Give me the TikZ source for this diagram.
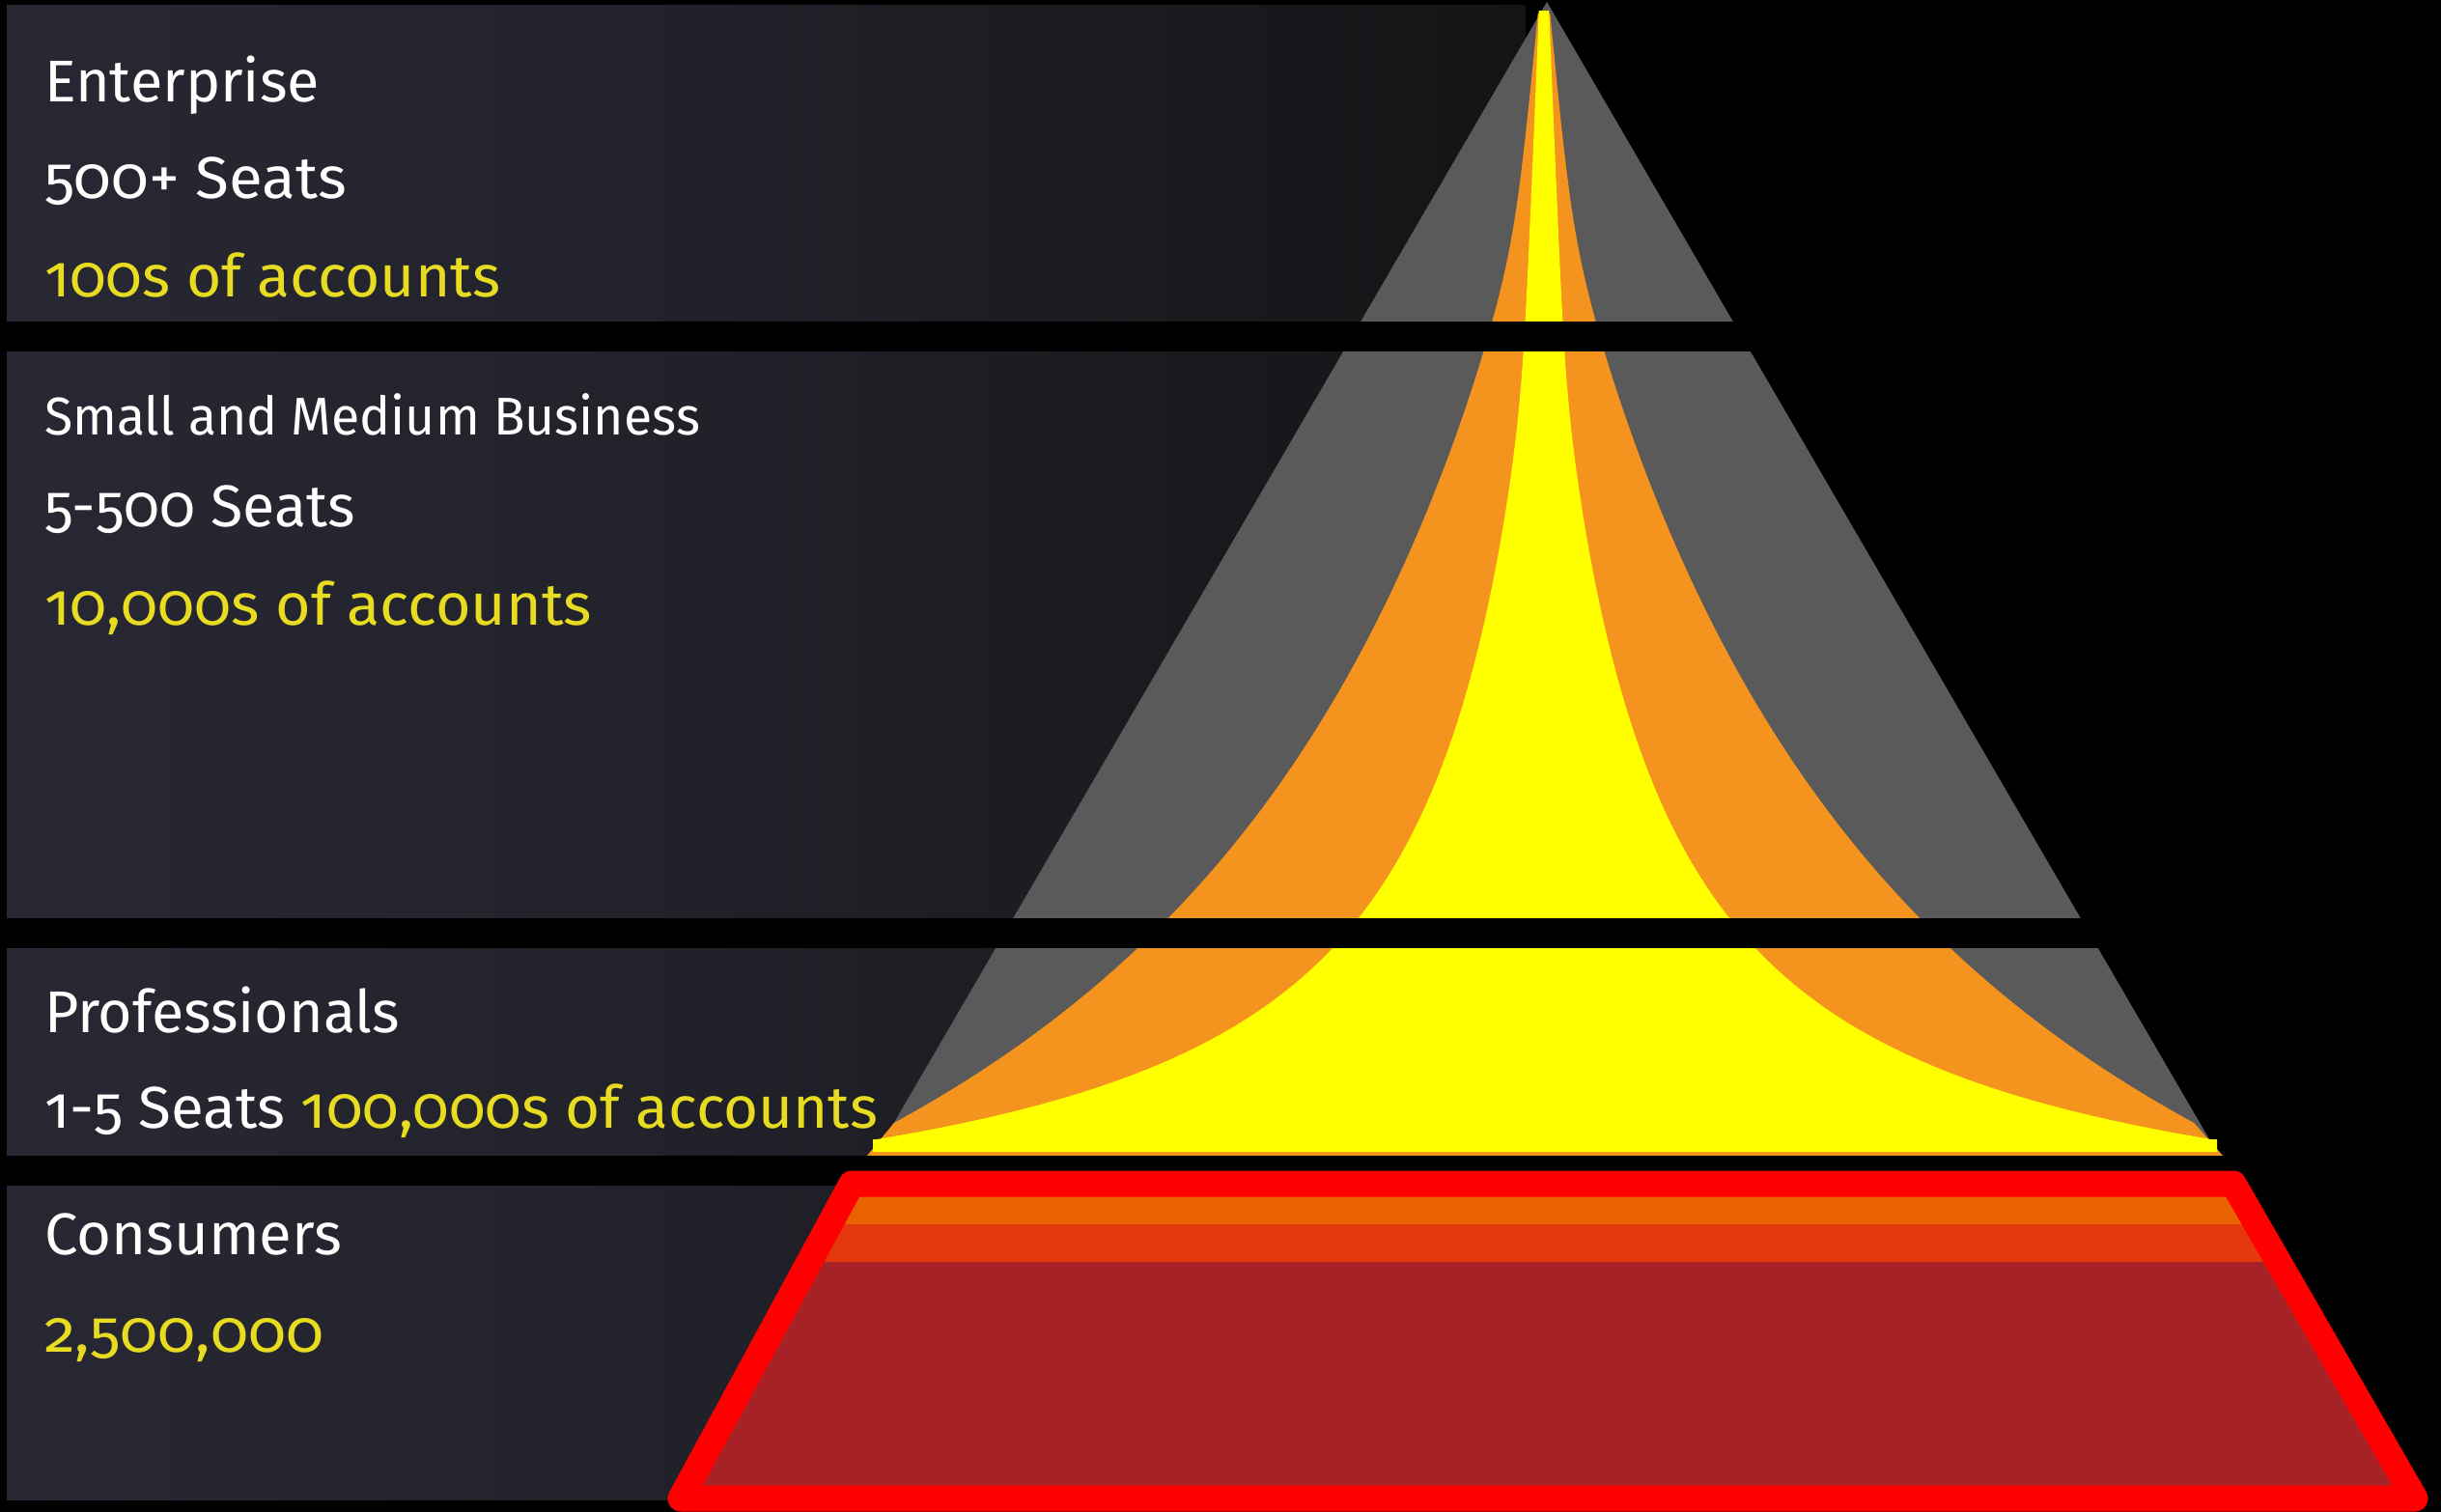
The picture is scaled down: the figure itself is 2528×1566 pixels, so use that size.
\documentclass[tikz,border=0pt]{standalone}
\usepackage{fontspec}
\setmainfont{Fira Sans}[Numbers=OldStyle]
\usepackage{graphicx}
\definecolor{panelL}{HTML}{272833}
\definecolor{panelM}{HTML}{202128}
\definecolor{panelR}{HTML}{141416}
\definecolor{pgrey}{HTML}{5A5A5A}
\definecolor{porange}{HTML}{F5931F}
\definecolor{pyellow}{HTML}{FFFF00}
\definecolor{ctext}{HTML}{E8DC22}
\definecolor{cbandA}{HTML}{E86200}
\definecolor{cbandB}{HTML}{E5390D}
\definecolor{cbody}{HTML}{A72226}
\definecolor{cred}{HTML}{FF0000}
\newcommand\fitw[2]{\resizebox{#1pt}{\height}{#2}}
\begin{document}
\begin{tikzpicture}[x=1pt,y=-1pt,
  declare function={
    hoa(\t)=6071.57/(17.385-\t/100)-382;
    hob(\t)=3+0.09*\t;
    hwo(\t)=0.5*(hoa(\t)+hob(\t)+100*sqrt(((hoa(\t)-hob(\t))/100)^2+0.03));
    hya(\t)=1019.88/(13.103-\t/100)-91.85;
    hyb(\t)=4+0.04*\t;
    hwy(\t)=0.5*(hya(\t)+hyb(\t)+100*sqrt(((hya(\t)-hyb(\t))/100)^2+0.006));},
  panel/.style={left color=panelL, right color=panelR, middle color=panelM},
  lbl/.style={anchor=base west, inner sep=0pt, outer sep=0pt, text=white},
  big/.style={font=\fontsize{61}{61}\selectfont},
  mid/.style={font=\fontsize{55}{55}\selectfont},
  yel/.style={text=ctext},
  crv/.style={samples=160, variable=\t}]
\useasboundingbox (0,0) rectangle (2528,1566);
\fill[black] (0,0) rectangle (2528,1566);
% panels
\fill[panel] (7,5) rectangle (1580,333);
\fill[panel] (7,364) rectangle (1580,951);
\fill[panel] (7,982) rectangle (1580,1197);
\fill[panel] (7,1228) rectangle (1580,1553);
% grey triangle
\fill[pgrey] (1602,2) -- (906,1197) -- (2298,1197) -- cycle;
% orange fan
\fill[porange] plot[crv, domain=14:1163] ({1599-hwo(\t)},{\t})
  -- (898,1197) -- (2302,1197)
  -- plot[crv, domain=1163:14] ({1599+hwo(\t)},{\t}) -- cycle;
% yellow fan
\fill[pyellow] plot[crv, domain=11:1180] ({1599-hwy(\t)},{\t})
  -- (904,1180) -- (904,1193) -- (2296,1193) -- (2296,1180)
  -- plot[crv, domain=1180:11] ({1599+hwy(\t)},{\t}) -- cycle;
% black separating bars
\fill[black] (0,333) rectangle (2528,364);
\fill[black] (0,951) rectangle (2528,982);
\fill[black] (0,1197) rectangle (2528,1228);
% consumers trapezoid
\begin{scope}
  \clip (882,1226) -- (2313,1226) -- (2501,1552) -- (705,1552) -- cycle;
  \fill[cbody] (600,1200) rectangle (2528,1566);
  \fill[cbandA] (600,1200) rectangle (2528,1268);
  \fill[cbandB] (600,1268) rectangle (2528,1307);
\end{scope}
\draw[cred, line width=27pt, line join=round] (882,1226) -- (2313,1226) -- (2501,1552) -- (705,1552) -- cycle;
% labels
\node[lbl,big] (ent) at (46,105) {\fitw{285}{Enterprise}};
\node[lbl,big] (entseats) at (46,205) {\fitw{313}{500+ Seats}};
\node[lbl,big,yel] (entacc) at (46,307) {\fitw{472}{100s of accounts}};
\node[lbl,mid] (smb) at (46,450) {\fitw{679}{Small and Medium Business}};
\node[lbl,big] (smbseats) at (46,545) {\fitw{322}{5-500 Seats}};
\node[lbl,big,yel] (smbacc) at (46,647) {\fitw{567}{10,000s of accounts}};
\node[lbl,big] (pro) at (46,1069) {\fitw{368}{Professionals}};
\node[lbl,big] (proline) at (46,1168) {\fitw{863}{1-5 Seats \textcolor{ctext}{100,000s of accounts}}};
\node[lbl,big] (con) at (46,1299) {\fitw{308}{Consumers}};
\node[lbl,big,yel] (connum) at (46,1400) {\fitw{289}{2,500,000}};
\end{tikzpicture}
\end{document}
